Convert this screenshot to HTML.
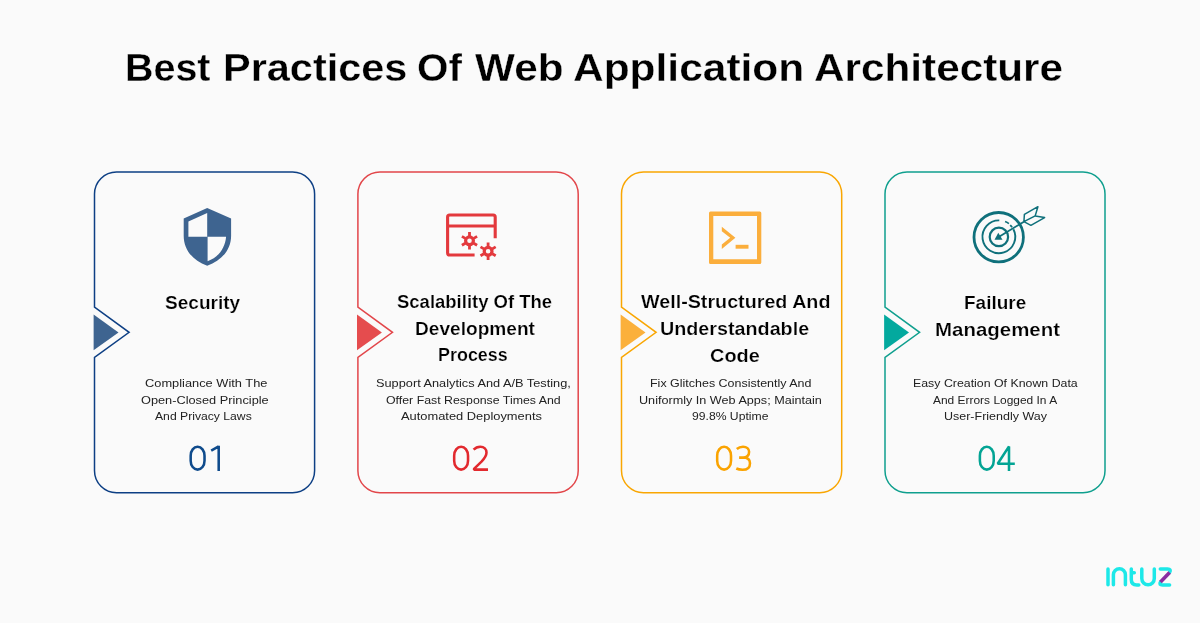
<!DOCTYPE html>
<html><head><meta charset="utf-8"><style>
html,body{margin:0;padding:0;}
body{width:1200px;height:623px;background:#fafafa;position:relative;overflow:hidden;font-family:"Liberation Sans",sans-serif;}
.ln{position:absolute;will-change:transform;white-space:nowrap;line-height:0;height:0;transform-origin:0 0;}
svg{position:absolute;left:0;top:0;}
</style></head><body>
<svg width="1200" height="623" viewBox="0 0 1200 623">
<path d="M116.5,172.0 H292.6 A22.0,22.0 0 0 1 314.6,194.0 V470.7 A22.0,22.0 0 0 1 292.6,492.7 H116.5 A22.0,22.0 0 0 1 94.5,470.7 V357.5 L129.1,332.3 L94.5,307.1 V194.0 A22.0,22.0 0 0 1 116.5,172.0 Z" fill="none" stroke="#0d3f84" stroke-width="1.5"/>
<path d="M93.6,314.5 L118.5,332.4 L93.6,350.2 Z" fill="#3e6490"/>
<path d="M379.9,172.0 H556.2 A22.0,22.0 0 0 1 578.2,194.0 V470.7 A22.0,22.0 0 0 1 556.2,492.7 H379.9 A22.0,22.0 0 0 1 357.9,470.7 V357.5 L392.5,332.3 L357.9,307.1 V194.0 A22.0,22.0 0 0 1 379.9,172.0 Z" fill="none" stroke="#e2464a" stroke-width="1.5"/>
<path d="M357.0,314.5 L381.9,332.4 L357.0,350.2 Z" fill="#e54c4e"/>
<path d="M643.5,172.0 H819.7 A22.0,22.0 0 0 1 841.7,194.0 V470.7 A22.0,22.0 0 0 1 819.7,492.7 H643.5 A22.0,22.0 0 0 1 621.5,470.7 V357.5 L656.1,332.3 L621.5,307.1 V194.0 A22.0,22.0 0 0 1 643.5,172.0 Z" fill="none" stroke="#f9a602" stroke-width="1.5"/>
<path d="M620.6,314.5 L645.5,332.4 L620.6,350.2 Z" fill="#fbb03b"/>
<path d="M907.0,172.0 H1083.0 A22.0,22.0 0 0 1 1105.0,194.0 V470.7 A22.0,22.0 0 0 1 1083.0,492.7 H907.0 A22.0,22.0 0 0 1 885.0,470.7 V357.5 L919.6,332.3 L885.0,307.1 V194.0 A22.0,22.0 0 0 1 907.0,172.0 Z" fill="none" stroke="#0f9f8e" stroke-width="1.5"/>
<path d="M884.1,314.5 L909.0,332.4 L884.1,350.2 Z" fill="#03a99e"/>
<!-- shield -->
<path fill="#3e6490" fill-rule="evenodd" d="M207.2,208 L183.7,218.4 L183.7,236 C183.7,249.5 192.5,260.5 207.2,265.8 C221.9,260.5 231.1,249.5 231.1,236 L231.1,218.4 Z M188.4,221.4 L207.2,213 L207.2,236.7 L188.4,236.7 Z M207.6,236.7 L226.1,236.7 C225,248.2 218.5,257.3 207.6,261.2 Z"/>
<!-- browser gears -->
<g fill="none" stroke="#e3393d" stroke-width="3.1">
<path d="M474.6,255 H449.6 Q447.6,255 447.6,253 V217 Q447.6,215 449.6,215 H493.2 Q495.2,215 495.2,217 V238.2"/>
<path d="M447.6,226 H495.2"/>
</g>
<g id="gear1" fill="none" stroke="#e3393d">
<circle cx="469.5" cy="240.8" r="3.9" stroke-width="3.2"/>
<path stroke-width="2.8" d="M469.5,232 V236 M469.5,245.6 V249.6 M461.9,236.4 L465.3,238.4 M473.7,243.2 L477.1,245.2 M461.9,245.2 L465.3,243.2 M473.7,238.4 L477.1,236.4"/>
</g>
<g fill="none" stroke="#e3393d">
<circle cx="488.1" cy="251.3" r="3.9" stroke-width="3.2"/>
<path stroke-width="2.8" d="M488.1,242.5 V246.5 M488.1,256.1 V260.1 M480.5,246.9 L483.9,248.9 M492.3,253.7 L495.7,255.7 M480.5,255.7 L483.9,253.7 M492.3,248.9 L495.7,246.9"/>
</g>
<!-- terminal -->
<path fill="#fbae3c" fill-rule="evenodd" d="M710.5,211.4 H759.8 Q761.3,211.4 761.3,212.9 V262.4 Q761.3,263.9 759.8,263.9 H710.5 Q709,263.9 709,262.4 V212.9 Q709,211.4 710.5,211.4 Z M713.3,215.9 V259.3 H757 V215.9 Z"/>
<path fill="#fbae3c" d="M721.8,226.8 L735.4,237.8 L721.8,248.9 L721.8,244.4 L730.2,237.8 L721.8,231.2 Z"/>
<rect x="735.6" y="244.8" width="12.9" height="3.9" fill="#fbae3c"/>
<!-- target -->
<g fill="none" stroke="#0f707b">
<circle cx="998.7" cy="237.2" r="24.7" stroke-width="2.8"/>
<path stroke-width="1.9" d="M999.3,220.4 A16.4,16.4 0 1 0 1013.4,229.2"/>
<path stroke-width="1.8" d="M1005.1,221.5 A16.4,16.4 0 0 1 1008.9,223.6 M1010.2,225.2 A16.4,16.4 0 0 1 1012.1,227.2"/>
<circle cx="998.9" cy="236.9" r="9.2" stroke-width="2.2"/>
<path stroke-width="1.8" d="M999.5,236.6 L1023.9,221.7"/>
<path stroke-width="1.5" stroke-linejoin="round" d="M1023.9,221.7 L1024.4,214.4 L1037.9,206.7 L1035.2,215.9 Z M1035.2,215.9 L1044.6,217.6 L1030.9,225.3 L1023.9,221.7"/>
</g>
<path fill="#0f707b" d="M994.5,239.8 L998.3,232.8 L1002.5,239.8 Z"/>
<!-- logo -->
<g fill="none" stroke="#1de8e8" stroke-width="3.5" stroke-linecap="round" stroke-linejoin="round">
<path d="M1108,568.9 V584.8"/>
<path d="M1113.4,584.8 V574.8 A6,6 0 0 1 1125.4,574.8 V584.8"/>
<path d="M1131.3,568.9 V579.5 Q1131.3,584.9 1136.8,584.9 H1138.8 M1131.3,572.8 H1134.3"/>
<path d="M1141.8,568.9 V578.5 A6.25,6.25 0 0 0 1154.3,578.5 V568.9"/>
<path d="M1160.3,569 H1167.6 Q1171.6,569 1169.6,572.4"/>
<path d="M1160.5,582.1 Q1158.6,584.9 1162.5,584.9 H1169.6"/>
</g>
<path d="M1169.6,572.4 L1160.5,582.1" stroke="#8a2ca2" stroke-width="3.6" stroke-linecap="butt"/>
<path fill="none" stroke="#0f4b8c" stroke-width="2.55" stroke-linejoin="bevel" d="M197.60000000000002,446.775 C201.478,446.775 204.525,450.69606 204.525,455.68649999999997 L204.525,460.7135 C204.525,465.70394 201.478,469.625 197.60000000000002,469.625 C193.72200000000004,469.625 190.675,465.70394 190.675,460.7135 L190.675,455.68649999999997 C190.675,450.69606 193.72200000000004,446.775 197.60000000000002,446.775 Z M211.20000000000002,450.7 L218.70000000000002,446.4 M218.70000000000002,445.7 V470.9"/>
<path fill="none" stroke="#e2292e" stroke-width="2.55" stroke-linejoin="bevel" d="M461.09999999999997,446.775 C464.97799999999995,446.775 468.025,450.69606 468.025,455.68649999999997 L468.025,460.7135 C468.025,465.70394 464.97799999999995,469.625 461.09999999999997,469.625 C457.222,469.625 454.17499999999995,465.70394 454.17499999999995,460.7135 L454.17499999999995,455.68649999999997 C454.17499999999995,450.69606 457.222,446.775 461.09999999999997,446.775 Z M473.59999999999997,449.7 C475.4,447.7 477.5,446.7 480.29999999999995,446.7 C484.09999999999997,446.7 486.5,449.1 486.5,452.6 C486.5,455.9 484.7,458.4 481.5,461.7 L474.0,468.9 L474.0,469.6 L488.0,469.6"/>
<path fill="none" stroke="#faa300" stroke-width="2.55" stroke-linejoin="bevel" d="M724.0999999999999,446.775 C727.978,446.775 731.025,450.69606 731.025,455.68649999999997 L731.025,460.7135 C731.025,465.70394 727.978,469.625 724.0999999999999,469.625 C720.2219999999999,469.625 717.175,465.70394 717.175,460.7135 L717.175,455.68649999999997 C717.175,450.69606 720.2219999999999,446.775 724.0999999999999,446.775 Z M736.8,449.0 C738.5,447.5 740.5,446.7 743.0,446.7 C746.8,446.7 749.1,448.8 749.1,451.8 C749.1,455.1 746.8,457.4 743.1,457.6 L739.1,457.6 M743.1,457.6 C747.6,457.7 750.0,460.1 750.0,463.2 C750.0,467.3 747.1999999999999,469.8 742.5,469.8 C740.3,469.8 738.1,469.4 736.3,468.5"/>
<path fill="none" stroke="#03a494" stroke-width="2.55" stroke-linejoin="bevel" d="M986.8,446.775 C990.678,446.775 993.725,450.69606 993.725,455.68649999999997 L993.725,460.7135 C993.725,465.70394 990.678,469.625 986.8,469.625 C982.9219999999999,469.625 979.875,465.70394 979.875,460.7135 L979.875,455.68649999999997 C979.875,450.69606 982.9219999999999,446.775 986.8,446.775 Z M1009.0000000000001,470.9 V446.7 L1009.0000000000001,446.4 L997.7,463.8 L1014.8000000000001,463.8"/>
</svg>
<div id="title0" class="ln" style="left:125.39px;top:68.20px;font-size:38px;font-weight:700;color:#000000;transform:scaleX(1.0380);-webkit-text-stroke:0.3px #fafafa;">Best</div>
<div id="title1" class="ln" style="left:222.98px;top:68.20px;font-size:38px;font-weight:700;color:#000000;transform:scaleX(1.0909);-webkit-text-stroke:0.3px #fafafa;">Practices</div>
<div id="title2" class="ln" style="left:416.62px;top:68.20px;font-size:38px;font-weight:700;color:#000000;transform:scaleX(1.0625);-webkit-text-stroke:0.3px #fafafa;">Of</div>
<div id="title3" class="ln" style="left:474.50px;top:68.20px;font-size:38px;font-weight:700;color:#000000;transform:scaleX(1.1122);-webkit-text-stroke:0.3px #fafafa;">Web</div>
<div id="title4" class="ln" style="left:573.38px;top:68.20px;font-size:38px;font-weight:700;color:#000000;transform:scaleX(1.1176);-webkit-text-stroke:0.3px #fafafa;">Application</div>
<div id="title5" class="ln" style="left:814.39px;top:68.20px;font-size:38px;font-weight:700;color:#000000;transform:scaleX(1.1126);-webkit-text-stroke:0.3px #fafafa;">Architecture</div>
<div id="h1a" class="ln" style="left:164.91px;top:302.70px;font-size:17.5px;font-weight:700;color:#000000;transform:scaleX(1.0882);-webkit-text-stroke:0.2px #fafafa;">Security</div>
<div id="h2a" class="ln" style="left:397.34px;top:302.20px;font-size:17.5px;font-weight:700;color:#000000;transform:scaleX(1.0566);-webkit-text-stroke:0.2px #fafafa;">Scalability Of The</div>
<div id="h2b" class="ln" style="left:414.51px;top:328.80px;font-size:17.5px;font-weight:700;color:#000000;transform:scaleX(1.0917);-webkit-text-stroke:0.2px #fafafa;">Development</div>
<div id="h2c" class="ln" style="left:438.38px;top:355.40px;font-size:17.5px;font-weight:700;color:#000000;transform:scaleX(1.0242);-webkit-text-stroke:0.2px #fafafa;">Process</div>
<div id="h3a" class="ln" style="left:641.40px;top:302.40px;font-size:17.5px;font-weight:700;color:#000000;transform:scaleX(1.1263);-webkit-text-stroke:0.2px #fafafa;">Well-Structured And</div>
<div id="h3b" class="ln" style="left:660.07px;top:329.40px;font-size:17.5px;font-weight:700;color:#000000;transform:scaleX(1.1275);-webkit-text-stroke:0.2px #fafafa;">Understandable</div>
<div id="h3c" class="ln" style="left:710.26px;top:356.30px;font-size:17.5px;font-weight:700;color:#000000;transform:scaleX(1.1381);-webkit-text-stroke:0.2px #fafafa;">Code</div>
<div id="h4a" class="ln" style="left:964.32px;top:302.50px;font-size:17.5px;font-weight:700;color:#000000;transform:scaleX(1.0839);-webkit-text-stroke:0.2px #fafafa;">Failure</div>
<div id="h4b" class="ln" style="left:935.23px;top:329.50px;font-size:17.5px;font-weight:700;color:#000000;transform:scaleX(1.1689);-webkit-text-stroke:0.2px #fafafa;">Management</div>
<div id="d1a" class="ln" style="left:144.68px;top:382.80px;font-size:11.5px;font-weight:400;color:#222222;transform:scaleX(1.1157);">Compliance With The</div>
<div id="d1b" class="ln" style="left:141.39px;top:399.50px;font-size:11.5px;font-weight:400;color:#222222;transform:scaleX(1.1096);">Open-Closed Principle</div>
<div id="d1c" class="ln" style="left:155.00px;top:416.30px;font-size:11.5px;font-weight:400;color:#222222;transform:scaleX(1.0582);">And Privacy Laws</div>
<div id="d2a" class="ln" style="left:375.89px;top:382.80px;font-size:11.5px;font-weight:400;color:#222222;transform:scaleX(1.1092);">Support Analytics And A/B Testing,</div>
<div id="d2b" class="ln" style="left:385.53px;top:399.50px;font-size:11.5px;font-weight:400;color:#222222;transform:scaleX(1.0733);">Offer Fast Response Times And</div>
<div id="d2c" class="ln" style="left:401.40px;top:416.30px;font-size:11.5px;font-weight:400;color:#222222;transform:scaleX(1.1190);">Automated Deployments</div>
<div id="d3a" class="ln" style="left:649.72px;top:382.80px;font-size:11.5px;font-weight:400;color:#222222;transform:scaleX(1.0844);">Fix Glitches Consistently And</div>
<div id="d3b" class="ln" style="left:638.90px;top:399.50px;font-size:11.5px;font-weight:400;color:#222222;transform:scaleX(1.0976);">Uniformly In Web Apps; Maintain</div>
<div id="d3c" class="ln" style="left:692.14px;top:416.30px;font-size:11.5px;font-weight:400;color:#222222;transform:scaleX(1.0577);">99.8% Uptime</div>
<div id="d4a" class="ln" style="left:913.03px;top:382.80px;font-size:11.5px;font-weight:400;color:#222222;transform:scaleX(1.0737);">Easy Creation Of Known Data</div>
<div id="d4b" class="ln" style="left:933.40px;top:399.50px;font-size:11.5px;font-weight:400;color:#222222;transform:scaleX(1.0383);">And Errors Logged In A</div>
<div id="d4c" class="ln" style="left:943.81px;top:416.30px;font-size:11.5px;font-weight:400;color:#222222;transform:scaleX(1.0862);">User-Friendly Way</div>
</body></html>
